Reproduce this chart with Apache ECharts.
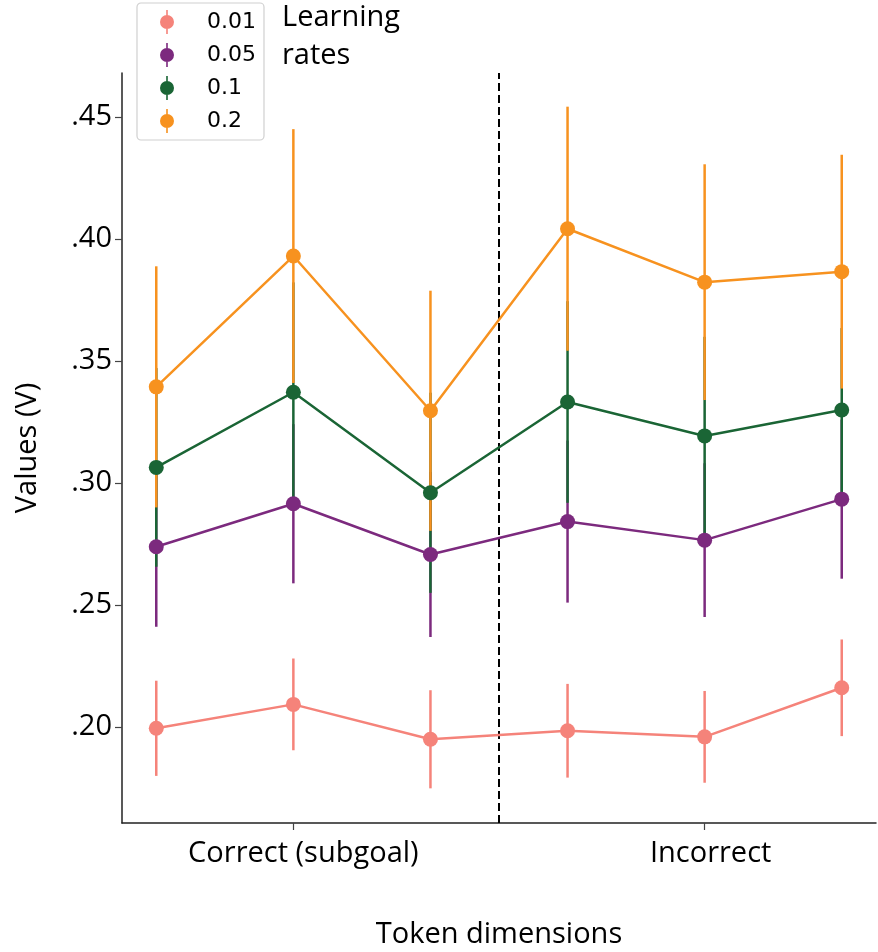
<!DOCTYPE html>
<html>
<head>
<meta charset="utf-8">
<script src="https://cdn.jsdelivr.net/npm/echarts@6/dist/echarts.min.js"></script>
<style>
html,body{margin:0;padding:0;background:#fff;}
#chart{width:878px;height:952px;}
</style>
</head>
<body>
<div id="chart"></div>
<script>
// ---- data ----
const positions = [0, 1, 2, 3, 4, 5];
const groupLabels = {1: 'Correct (subgoal)', 4: 'Incorrect'};
const yTicks = [0.20, 0.25, 0.30, 0.35, 0.40, 0.45];
const seriesNames = ['0.01', '0.05', '0.1', '0.2'];
const seriesColors = ['#F5837A', '#7C2A7E', '#1A6535', '#F7921F'];

const mean001 = [0.1995, 0.2093, 0.1950, 0.1985, 0.1960, 0.2161];
const err001  = [0.0195, 0.0188, 0.0201, 0.0192, 0.0188, 0.0198];
const mean005 = [0.2739, 0.2915, 0.2707, 0.2842, 0.2766, 0.2934];
const err005  = [0.0328, 0.0326, 0.0338, 0.0332, 0.0315, 0.0326];
const mean01  = [0.3064, 0.3372, 0.2960, 0.3332, 0.3193, 0.3299];
const err01   = [0.0407, 0.0450, 0.0410, 0.0413, 0.0406, 0.0336];
const mean02  = [0.3394, 0.3930, 0.3296, 0.4042, 0.3823, 0.3866];
const err02   = [0.0494, 0.0520, 0.0492, 0.0500, 0.0483, 0.0479];

const separatorX = 2.5;

const means = [mean001, mean005, mean01, mean02];
const errs = [err001, err005, err01, err02];

const FONT = '"Open Sans", sans-serif';

const series = [];
means.forEach((m, si) => {
  series.push({
    type: 'custom',
    name: seriesNames[si] + '_err',
    z: 2 + si,
    silent: true,
    renderItem: function (params, api) {
      const x = api.value(0);
      const lo = api.coord([x, api.value(1)]);
      const hi = api.coord([x, api.value(2)]);
      return {
        type: 'line',
        shape: {x1: lo[0], y1: lo[1], x2: hi[0], y2: hi[1]},
        style: {stroke: seriesColors[si], lineWidth: 2.5}
      };
    },
    data: positions.map((p, i) => [p, m[i] - errs[si][i], m[i] + errs[si][i]])
  });
});
means.forEach((m, si) => {
  const s = {
    type: 'line',
    name: seriesNames[si],
    z: 10 + si,
    symbol: 'circle',
    symbolSize: 15,
    showSymbol: true,
    itemStyle: {color: seriesColors[si], borderWidth: 0},
    lineStyle: {color: seriesColors[si], width: 2.5},
    emphasis: {disabled: true},
    data: positions.map((p, i) => [p, m[i]])
  };
  if (si === 0) {
    s.markLine = {
      silent: true,
      symbol: 'none',
      label: {show: false},
      lineStyle: {color: '#000', type: [8, 4], width: 2},
      data: [{xAxis: separatorX}]
    };
  }
  series.push(s);
});

const legendIcon = 'path://M6.2,0 H7.8 V24 H6.2 Z M0,12 A7,7 0 1,1 14,12 A7,7 0 1,1 0,12 Z';

const chart = echarts.init(document.getElementById('chart'), null, {renderer: 'canvas'});
chart.setOption({
  animation: false,
  backgroundColor: '#fff',
  grid: {left: 122, top: 73, right: 2, bottom: 129, containLabel: false, outerBoundsMode: 'none'},
  legend: {
    data: seriesNames.map(n => ({name: n, icon: legendIcon})),
    orient: 'vertical',
    left: 137,
    top: 3,
    itemWidth: 14,
    itemHeight: 24,
    itemGap: 9,
    padding: [7, 8, 7, 23],
    borderColor: '#d0d0d0',
    borderWidth: 1.2,
    borderRadius: 4,
    backgroundColor: '#fff',
    itemStyle: {borderWidth: 0},
    textStyle: {fontFamily: '"DejaVu Sans", sans-serif', fontSize: 22, color: '#000', padding: [0, 0, 0, 28]},
    selectedMode: false,
    z: 20
  },
  graphic: [{
    type: 'text',
    left: 282,
    top: -1,
    style: {
      text: 'Learning\nrates',
      fontFamily: FONT,
      fontSize: 29,
      lineHeight: 38,
      fill: '#000'
    }
  }],
  xAxis: {
    type: 'value',
    min: -0.25,
    max: 5.25,
    splitLine: {show: false},
    axisLine: {show: true, onZero: false, lineStyle: {color: '#222', width: 1.5}},
    axisTick: {show: true, customValues: [1, 4], length: 7, lineStyle: {color: '#444', width: 1.2}},
    axisLabel: {
      show: true,
      customValues: [1, 4],
      formatter: v => {
        const k = Math.round(v);
        return groupLabels[k] ? '{g' + k + '|' + groupLabels[k] + '}' : '';
      },
      rich: {
        g1: {fontFamily: FONT, fontSize: 29, color: '#000', padding: [0, 0, 0, 20]},
        g4: {fontFamily: FONT, fontSize: 29, color: '#000', padding: [0, 0, 0, 12]}
      },
      fontFamily: FONT, fontSize: 29, color: '#000', margin: 16
    },
    name: 'Token dimensions',
    nameLocation: 'middle',
    nameGap: 97,
    nameTextStyle: {fontFamily: FONT, fontSize: 29, color: '#000'}
  },
  yAxis: {
    type: 'value',
    min: 0.1607,
    max: 0.468,
    splitLine: {show: false},
    axisLine: {show: true, onZero: false, lineStyle: {color: '#222', width: 1.5}},
    axisTick: {show: true, customValues: yTicks, length: 7, lineStyle: {color: '#444', width: 1.2}},
    axisLabel: {
      show: true,
      customValues: yTicks,
      formatter: v => v.toFixed(2).replace(/^0/, ''),
      fontFamily: FONT, fontSize: 29, color: '#000', margin: 10
    },
    name: 'Values (V)',
    nameLocation: 'middle',
    nameGap: 80,
    nameTextStyle: {fontFamily: FONT, fontSize: 29, color: '#000'}
  },
  series: series
});
</script>
</body>
</html>
